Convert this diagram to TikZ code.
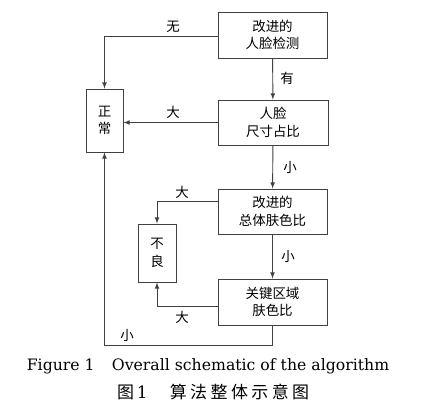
\documentclass[tikz,border=0pt]{standalone}
\usepackage{fontspec}
\setmainfont{DejaVu Serif}
\newfontfamily\cjk{Noto Sans CJK SC}
\newfontfamily\cjkcap[LetterSpace=20]{Noto Sans CJK SC}
\usetikzlibrary{calc}
\usetikzlibrary{positioning}

\begin{document}
\begin{tikzpicture}[x=0.03cm, y=-0.03cm, >=latex,
    box/.style={draw=black!75, line width=0.8pt, align=center, inner sep=0pt,
        font=\cjk\fontsize{11.5}{15}\selectfont},
    lbl/.style={font=\cjk\fontsize{11.5}{14}\selectfont, inner sep=0pt},
    flow/.style={->, draw=black!75, line width=0.8pt}]
    \useasboundingbox (0,0) rectangle (426,411);

    % Main column of steps
    \node [box, minimum width=3.27cm, minimum height=1.38cm] (detect) at (272.5,35) {改进的\\人脸检测};
    \node [box, minimum width=3.30cm, minimum height=1.35cm] (ratio) at (273,122.5) {人脸\\尺寸占比};
    \node [box, minimum width=3.27cm, minimum height=1.35cm] (skin) at (272.5,211.5) {改进的\\总体肤色比};
    \node [box, minimum width=3.27cm, minimum height=1.38cm] (keyskin) at (272.5,302) {关键区域\\肤色比};

    % Result boxes
    \node [box, minimum width=1.11cm, minimum height=1.89cm] (normal) at (104.5,120.5) {正\\常};
    \node [box, minimum width=1.14cm, minimum height=1.74cm] (bad) at (157,253) {不\\良};

    % Arrows down the column
    \draw [flow] (detect) -- (ratio);
    \draw [flow] (ratio) -- (skin);
    \draw [flow] (skin) -- (keyskin);

    % Arrows to the results
    \draw [flow] ([yshift=-0.03cm]detect.west) -| (normal.north);
    \draw [flow] (ratio.west) -- (ratio.west -| normal.east);
    \draw [flow] ([yshift=0.315cm]skin.west) -| (bad.north);
    \draw [flow] ([yshift=-0.12cm]keyskin.west) -| (bad.south);
    \coordinate (turn) at ($(keyskin.south)+(0,20)$);
    \draw [flow] (keyskin.south) -- (turn) -| (normal.south);

    % Branch labels
    \node [lbl] (lbl_none) at (173,27) {无};
    \node [lbl] (lbl_yes) at (287,78) {有};
    \node [lbl] (lbl_big1) at (173,112) {大};
    \node [lbl] (lbl_small1) at (290,167) {小};
    \node [lbl] (lbl_big2) at (182,192) {大};
    \node [lbl] (lbl_small2) at (288,256) {小};
    \node [lbl] (lbl_big3) at (182,317) {大};
    \node [lbl] (lbl_small3) at (127,335) {小};

    % Captions
    \node [font=\fontsize{13.4}{15}\selectfont] (caption_en) at (208,366) {Figure 1\hspace{1.1em}Overall schematic of the algorithm};
    \node [font=\fontsize{14.5}{16}\selectfont, anchor=west] (caption_cn) at (113,392) {{\cjk 图}\,1\hspace{1.3em}{\cjkcap 算法整体示意图}};
\end{tikzpicture}
\end{document}
